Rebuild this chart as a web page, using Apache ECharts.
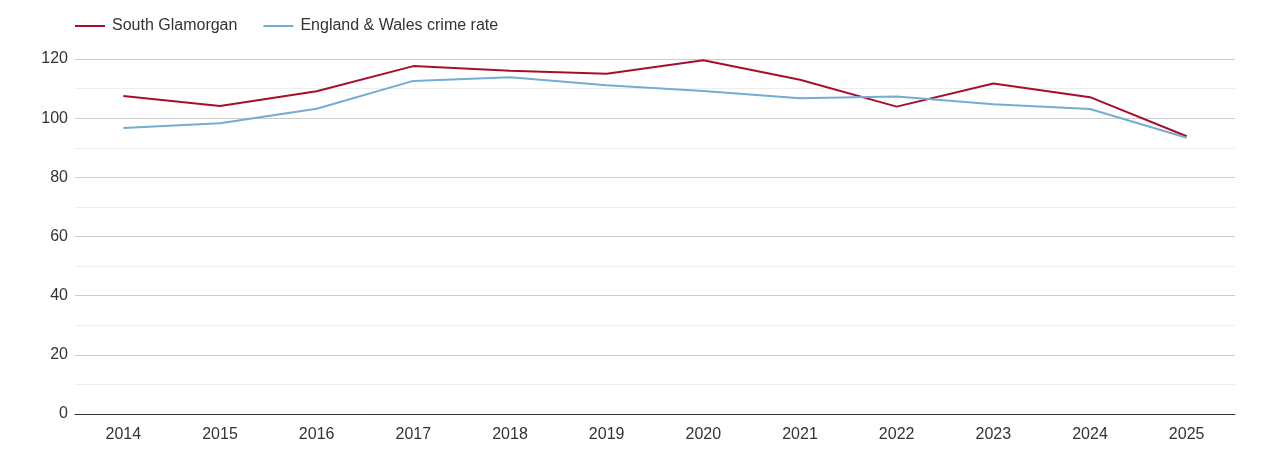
<!DOCTYPE html>
<html>
<head>
<meta charset="utf-8">
<script src="https://cdn.jsdelivr.net/npm/echarts@6/dist/echarts.min.js"></script>
<style>html,body{margin:0;padding:0;background:#fff;}#c{width:1270px;height:450px;}</style>
</head>
<body>
<div id="c"></div>
<script>
var years = ['2014','2015','2016','2017','2018','2019','2020','2021','2022','2023','2024','2025'];
var southGlamorgan = [107.5,104.1,109.1,117.6,116.0,115.0,119.6,113.0,103.9,111.7,107.1,93.9];
var englandWales = [96.7,98.3,103.2,112.6,113.8,111.1,109.2,106.7,107.3,104.7,103.1,93.4];
var yTicks = {min:0, max:120, interval:20};

var chart = echarts.init(document.getElementById('c'));
chart.setOption({
  animation:false,
  textStyle:{fontFamily:'Liberation Sans, Arial, sans-serif'},
  legend:{
    left:70, top:13, itemWidth:30, itemHeight:2, itemGap:26, icon:'rect',
    textStyle:{fontSize:16, color:'#333', padding:[0,0,0,2]},
    data:['South Glamorgan','England & Wales crime rate']
  },
  grid:{left:75, right:35, top:59, bottom:36, containLabel:false},
  xAxis:{
    type:'category', data:years, boundaryGap:true,
    axisLine:{lineStyle:{color:'#333'}},
    axisTick:{show:false},
    axisLabel:{fontSize:16, color:'#333', margin:13}
  },
  yAxis:{
    type:'value', min:yTicks.min, max:yTicks.max, interval:yTicks.interval,
    axisLine:{show:false}, axisTick:{show:false},
    axisLabel:{fontSize:16, color:'#333', margin:7, padding:[3,0,0,0]},
    splitLine:{lineStyle:{color:'#ccc'}},
    minorTick:{show:false, splitNumber:2},
    minorSplitLine:{show:true, lineStyle:{color:'#eee'}}
  },
  series:[
    {name:'South Glamorgan', type:'line', data:southGlamorgan, symbol:'none',
     lineStyle:{color:'#a50f2d', width:2}, itemStyle:{color:'#a50f2d'}},
    {name:'England & Wales crime rate', type:'line', data:englandWales, symbol:'none',
     lineStyle:{color:'#74add1', width:2}, itemStyle:{color:'#74add1'}}
  ]
});
</script>
</body>
</html>
